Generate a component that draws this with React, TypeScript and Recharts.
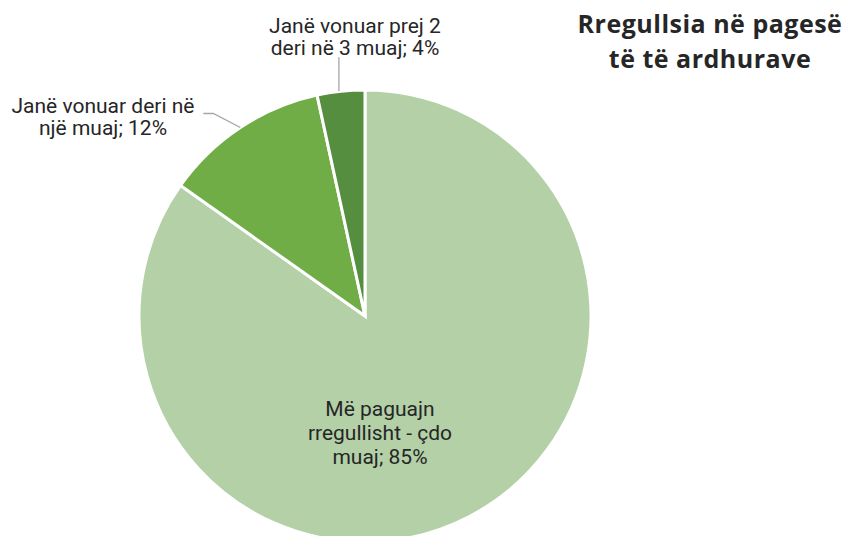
import { PieChart, Pie, Cell } from 'recharts';

const CATEGORIES = [
  'Më paguajn rregullisht - çdo muaj',
  'Janë vonuar deri në një muaj',
  'Janë vonuar prej 2 deri në 3 muaj',
];
const SHARES = [84.8, 11.8, 3.4];
const SHARE_LABELS = ['85%', '12%', '4%'];
const LABEL_LINES = [
  ['Më paguajn', 'rregullisht - çdo', 'muaj; 85%'],
  ['Janë vonuar deri në', 'një muaj; 12%'],
  ['Janë vonuar prej 2', 'deri në 3 muaj; 4%'],
];
const COLORS = ['#b3d0a7', '#70ad47', '#548e3e'];

const data = CATEGORIES.map((name, i) => ({
  name,
  value: SHARES[i],
  label: SHARE_LABELS[i],
}));

const FONT = 'Roboto, "Noto Sans", sans-serif';
const TITLE_FONT = '"Open Sans", "Noto Sans", sans-serif';
const TEXT = '#262626';
const RAD = Math.PI / 180;

function renderLabel(props: any) {
  const { cx, cy, midAngle, outerRadius, index } = props;
  const lines = LABEL_LINES[index];
  const ex = cx + outerRadius * Math.cos(-midAngle * RAD);
  const ey = cy + outerRadius * Math.sin(-midAngle * RAD);

  if (index === 0) {
    return (
      <text x={cx + 15} y={cy + 100} textAnchor="middle" fill={TEXT} fontSize={21} fontFamily={FONT}>
        {lines.map((l, i) => (
          <tspan key={i} x={cx + 15} dy={i === 0 ? 0 : 24}>{l}</tspan>
        ))}
      </text>
    );
  }
  if (index === 1) {
    return (
      <g>
        <polyline points={`${ex},${ey} ${ex - 27},${ey - 14} ${ex - 37},${ey - 14}`} fill="none" stroke="#a6a6a6" strokeWidth={1.3} />
        <text x={cx - 262} y={cy - 203} textAnchor="middle" fill={TEXT} fontSize={21} fontFamily={FONT}>
          {lines.map((l, i) => (
            <tspan key={i} x={cx - 262} dy={i === 0 ? 0 : 22}>{l}</tspan>
          ))}
        </text>
      </g>
    );
  }
  return (
    <g>
      <line x1={ex - 2} y1={ey} x2={ex - 2} y2={ey - 34} stroke="#a6a6a6" strokeWidth={1.3} />
      <text x={cx - 10} y={cy - 283} textAnchor="middle" fill={TEXT} fontSize={21} fontFamily={FONT}>
        {lines.map((l, i) => (
          <tspan key={i} x={cx - 10} dy={i === 0 ? 0 : 22}>{l}</tspan>
        ))}
      </text>
    </g>
  );
}

export default function App() {
  return (
    <div style={{ position: 'absolute', left: 0, top: 0, width: 852, height: 536, background: '#fff', overflow: 'hidden' }}>
      <PieChart width={852} height={536} margin={{ top: 0, right: 0, bottom: 0, left: 0 }}>
        <Pie
          data={data}
          dataKey="value"
          nameKey="name"
          cx={365}
          cy={316}
          outerRadius={226}
          startAngle={90}
          endAngle={-270}
          stroke="#ffffff"
          strokeWidth={3}
          label={renderLabel}
          labelLine={false}
          isAnimationActive={false}
        >
          {data.map((d, i) => (
            <Cell key={d.name} fill={COLORS[i]} />
          ))}
        </Pie>
        <text x={710} y={33} textAnchor="middle" fill={TEXT} fontSize={25} fontWeight={700} fontFamily={TITLE_FONT} letterSpacing={0.5}>
          <tspan x={710}>Rregullsia në pagesë</tspan>
          <tspan x={710} dy={35}>të të ardhurave</tspan>
        </text>
      </PieChart>
    </div>
  );
}
